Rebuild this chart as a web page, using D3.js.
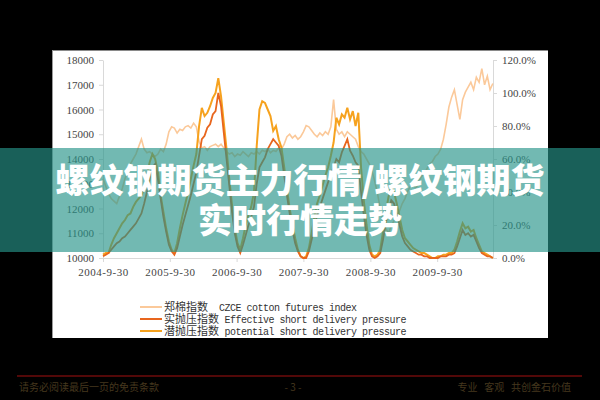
<!DOCTYPE html>
<html><head><meta charset="utf-8">
<script src="https://cdn.jsdelivr.net/npm/d3@7/dist/d3.min.js"></script>
<style>html,body{margin:0;padding:0;background:#000;}svg{display:block;}</style>
</head><body>
<svg id="c" width="600" height="400"></svg>
<script>
// ---- data (15-day sampling from 2004-9-30) ----
const startDate = "2004-09-30";
const stepDays = 15;
const cotton = [13200,12900,12600,12400,12300,12200,12500,12800,13200,13500,
13800,14000,14200,14500,14800,14400,14250,14300,14200,14100,
14200,14400,14300,14600,15100,15300,15250,15050,15200,15150,
15300,15350,15250,15450,15300,14700,14450,14500,14350,14500,
14550,14600,14500,14600,14450,14300,14200,14250,14100,14200,
14150,14300,14200,14100,14250,14200,14300,14200,14350,14300,
14400,14250,14350,14300,14450,14400,14600,14900,15000,14850,
14950,14800,14900,15100,15350,15300,15150,15000,14900,15050,
14950,15100,15000,15300,16400,15200,15000,15100,14900,15100,
15000,14900,14800,14500,14300,14200,14000,13800,13500,13100,
12600,12000,11500,11200,11000,11300,11500,11700,11900,12200,
12400,12700,12900,13000,12800,13100,13300,13400,13600,13800,
13900,14100,14200,14400,14800,15400,16100,16500,16800,16200,
15600,16400,16700,16900,17100,16800,17300,17100,17650,17000,
17350,16800,17050];
const effective = [1,2,3,5,7,9,10,12,13,15,
17,19,21,24,27,33,40,48,55,57,
48,36,25,16,8,4,2,6,13,20,
26,32,38,45,52,62,72,74,79,81,
87,89,100,92,76,60,44,28,15,7,
3,8,14,20,25,31,45,55,58,61,
66,69,72,70,68,62,50,38,27,17,
9,4,1,0,0,4,11,19,26,31,
36,41,46,51,55,60,58,64,68,72,
65,62,58,56,40,26,14,5,1,0,
1,3,11,21,29,35,33,27,20,13,
9,7,5,4,3,2,2,1,1,0,
0,0,0,1,1,1,2,2,3,7,
12,17,14,15,13,14,10,6,3,2,
1,1,0];
const potential = [2,3,3,8,12,15,18,21,23,26,
27,31,34,36,38,42,50,58,63,60,
52,38,28,18,10,5,3,9,18,26,
33,40,48,56,63,80,91,86,88,92,
97,100,109,98,82,66,48,32,18,9,
5,12,20,26,31,40,68,90,95,94,
90,86,77,80,72,67,55,42,30,20,
12,5,1,0,1,6,15,25,33,38,
44,50,55,62,70,85,81,87,85,91,
84,89,80,88,55,35,20,8,2,1,
2,5,16,28,37,44,40,33,25,17,
12,10,8,6,5,4,3,3,2,1,
0,0,1,1,2,2,3,3,5,10,
16,21,18,19,16,17,12,8,4,3,
2,1,0];
const xTickLabels = ["2004-9-30","2005-9-30","2006-9-30","2007-9-30","2008-9-30","2009-9-30"];
const leftTicks = [10000,11000,12000,13000,14000,15000,16000,17000,18000];
const rightTicks = [0,20,40,60,80,100,120];
const legendCn = ["郑棉指数","实抛压指数","潜抛压指数"];
const legendEn = ["  CZCE cotton futures index"," Effective short delivery pressure"," potential short delivery pressure"];
const titleLines = ["螺纹钢期货主力行情/螺纹钢期货","实时行情走势"];
const footerLeft = "请务必阅读最后一页的免责条款";
const footerMid = "- 3 -";
const footerRight = "专业   客观   共创金石价值";

// ---- build ----
const parse = d3.timeParse("%Y-%m-%d");
const parseTick = d3.timeParse("%Y-%-m-%-d");
const t0 = parse(startDate);
const dates = cotton.map((_, i) => d3.timeDay.offset(t0, stepDays * i));

const svg = d3.select("#c");
svg.append("rect").attr("width",600).attr("height",400).attr("fill","#000");
svg.append("rect").attr("x",52).attr("y",50).attr("width",496).attr("height",288)
  .attr("fill","#fff");
svg.append("line").attr("x1",52).attr("x2",548).attr("y1",50.5).attr("y2",50.5).attr("stroke","#8a8a8a");
svg.append("line").attr("x1",52.5).attr("x2",52.5).attr("y1",50).attr("y2",338).attr("stroke","#9a9a9a");

const x = d3.scaleTime().domain([t0, parse("2010-08-01")]).range([103, 493]);
const yL = d3.scaleLinear().domain([10000,18000]).range([258, 60]);
const yR = d3.scaleLinear().domain([0,120]).range([258, 60]);

const tickFont = "'Liberation Serif', 'DejaVu Serif', serif";
function styleAxis(g){
  g.selectAll("path").attr("stroke","#d9d9d9");
  g.selectAll("line").attr("stroke","#d9d9d9");
  g.selectAll("text").attr("fill","#444").style("font-family",tickFont).style("font-size","11px");
}
svg.append("g").attr("transform","translate(103,0)")
  .call(d3.axisLeft(yL).tickValues(leftTicks).tickSize(4).tickPadding(5).tickSizeOuter(0).tickFormat(d3.format("d")))
  .call(styleAxis);
svg.append("g").attr("transform","translate(493,0)")
  .call(d3.axisRight(yR).tickValues(rightTicks).tickSize(4).tickPadding(5).tickSizeOuter(0).tickFormat(d => d.toFixed(1) + "%"))
  .call(styleAxis);
svg.append("g").attr("transform","translate(0,258)")
  .call(d3.axisBottom(x).tickValues(xTickLabels.map(parseTick)).tickSize(4).tickPadding(6).tickSizeOuter(0)
    .tickFormat((d,i) => xTickLabels[i]))
  .call(styleAxis)
  .call(g => g.selectAll("text").style("letter-spacing","0.5px"));

const colCotton = "#fbc99a", colEff = "#e8661e", colPot = "#f6a21e";
const lineL = d3.line().x((d,i) => x(dates[i])).y(d => yL(d));
const lineR = d3.line().x((d,i) => x(dates[i])).y(d => yR(d));
svg.append("path").datum(cotton).attr("d", lineL).attr("fill","none").attr("stroke",colCotton).attr("stroke-width",1.6);
svg.append("path").datum(potential).attr("d", lineR).attr("fill","none").attr("stroke",colPot).attr("stroke-width",2);
svg.append("path").datum(effective).attr("d", lineR).attr("fill","none").attr("stroke",colEff).attr("stroke-width",1.8);

// legend
const legCols = [colCotton, colEff, colPot];
const lg = svg.append("g");
legendCn.forEach((cn, i) => {
  const yy = 307 + i * 12;
  lg.append("line").attr("x1",140).attr("x2",162).attr("y1",yy).attr("y2",yy)
    .attr("stroke",legCols[i]).attr("stroke-width",2);
  const t = lg.append("text").attr("x",164).attr("y",yy+4).attr("fill","#333")
    .attr("xml:space","preserve").style("white-space","pre");
  t.append("tspan").text(cn).style("font-family","'Noto Sans CJK SC'").style("font-size","11px");
  t.append("tspan").text(legendEn[i])
    .style("font-family","'Liberation Mono', monospace").style("font-size","10px").style("letter-spacing","-0.5px");
});

// banner overlay
svg.append("rect").attr("x",0).attr("y",148).attr("width",600).attr("height",104)
  .attr("fill","rgb(38,147,136)").attr("fill-opacity",0.65);
titleLines.forEach((s, i) => {
  svg.append("text").attr("x",300).attr("y", 193 + i * 40).attr("text-anchor","middle")
    .attr("fill","#fff").style("font-family","'Noto Sans CJK SC'").style("font-weight",900)
    .style("font-size","34px").text(s);
});

// footer
svg.append("line").attr("x1",17).attr("x2",582).attr("y1",376).attr("y2",376)
  .attr("stroke","#6e0b0b").attr("stroke-width",1.5);
const ff = {"font-family":"'Noto Sans CJK SC'","font-size":"10px"};
svg.append("text").attr("x",19).attr("y",391).attr("fill","#45371e").style("font-family",ff["font-family"]).style("font-size",ff["font-size"]).text(footerLeft);
svg.append("text").attr("x",293).attr("y",391).attr("text-anchor","middle").attr("fill","#45371e").style("font-family",ff["font-family"]).style("font-size",ff["font-size"]).text(footerMid);
svg.append("text").attr("x",571).attr("y",391).attr("text-anchor","end").attr("fill","#45371e").style("white-space","pre").style("font-family",ff["font-family"]).style("font-size",ff["font-size"]).text(footerRight);
</script>
</body></html>
